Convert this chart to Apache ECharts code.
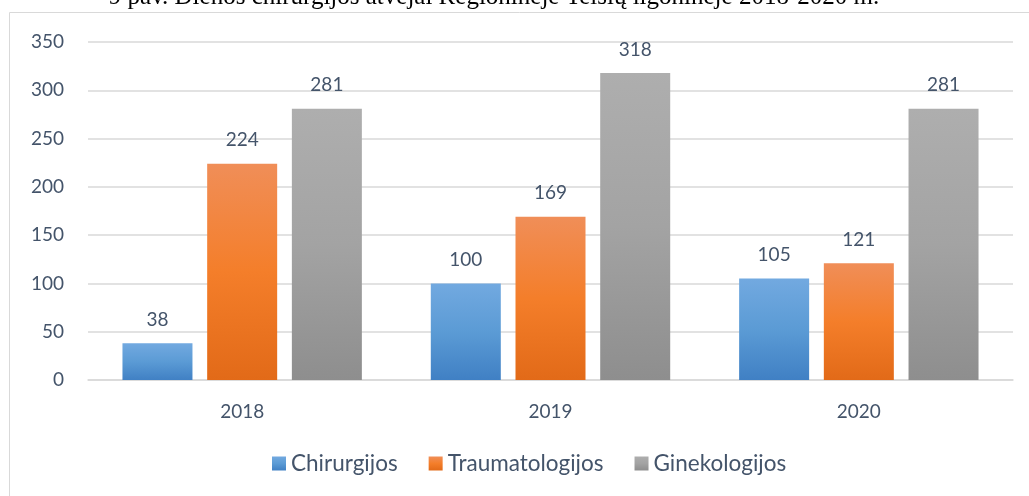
<!DOCTYPE html>
<html><head><meta charset="utf-8">
<script src="https://cdn.jsdelivr.net/npm/echarts@6/dist/echarts.min.js"></script>
<style>html,body{margin:0;padding:0;background:#fff}#c{width:1029px;height:496px}</style>
</head><body><div id="c"></div>
<script>
const categories = ['2018', '2019', '2020'];
const seriesNames = ['Chirurgijos', 'Traumatologijos', 'Ginekologijos'];
const chirurgijos = [38, 100, 105];
const traumatologijos = [224, 169, 121];
const ginekologijos = [281, 318, 281];
const yTicks = [0, 50, 100, 150, 200, 250, 300, 350];
const titleText = '9 pav. Dienos chirurgijos atvejai Regioninėje Telšių ligoninėje 2018-2020 m.';

const grad = (top, mid, bot) => new echarts.graphic.LinearGradient(0, 0, 0, 1, [
  {offset: 0, color: top}, {offset: 0.5, color: mid}, {offset: 1, color: bot}]);
const colors = [
  grad('#72A9E0', '#5B9BD5', '#4080C4'),
  grad('#F08E58', '#F47E2A', '#E26A18'),
  grad('#AEAEAE', '#A3A3A3', '#8E8E8E')
];
const legendColors = ['#5B9BD5', '#ED7D31', '#A5A5A5'];
const font = 'Lato, "Open Sans", sans-serif';
const txt = '#44546A';

const chart = echarts.init(document.getElementById('c'), null, {renderer: 'canvas'});
const data = [chirurgijos, traumatologijos, ginekologijos];
chart.setOption({
  animation: false,
  color: legendColors,
  graphic: [
    {type: 'rect', shape: {x: 9.5, y: 12.5, width: 1040, height: 520}, style: {fill: 'none', stroke: '#D9D9D9', lineWidth: 1}, z: -1},
    {type: 'text', x: 494, y: -15, style: {text: titleText, font: '25px "Liberation Serif", serif', fill: '#000', textAlign: 'center', textVerticalAlign: 'top'}}
  ],
  grid: {left: 88, right: 16, top: 42, bottom: 116, containLabel: false},
  legend: {
    bottom: 16, left: 267, itemWidth: 14, itemHeight: 14, itemGap: 31, icon: 'rect',
    textStyle: {fontFamily: font, fontSize: 22.5, color: txt, padding: [0, 0, 0, 0]},
    data: seriesNames
  },
  xAxis: {
    type: 'category', data: categories,
    axisLine: {lineStyle: {color: '#D9D9D9', width: 1.5}}, axisTick: {show: false},
    axisLabel: {fontFamily: font, fontSize: 19, color: txt, margin: 22}
  },
  yAxis: {
    type: 'value', min: 0, max: 350, interval: 50,
    axisLine: {show: false}, axisTick: {show: false},
    splitLine: {lineStyle: {color: '#D9D9D9', width: 1.5}},
    axisLabel: {fontFamily: font, fontSize: 19, color: txt, margin: 24,
      formatter: v => yTicks.includes(v) ? String(v) : ''}
  },
  series: seriesNames.map((n, i) => ({
    name: n, type: 'bar', data: data[i],
    barWidth: 70, barGap: '21%',
    itemStyle: {color: colors[i]},
    label: {show: true, position: 'top', distance: 14, fontFamily: font, fontSize: 19, color: txt}
  }))
});
</script></body></html>
